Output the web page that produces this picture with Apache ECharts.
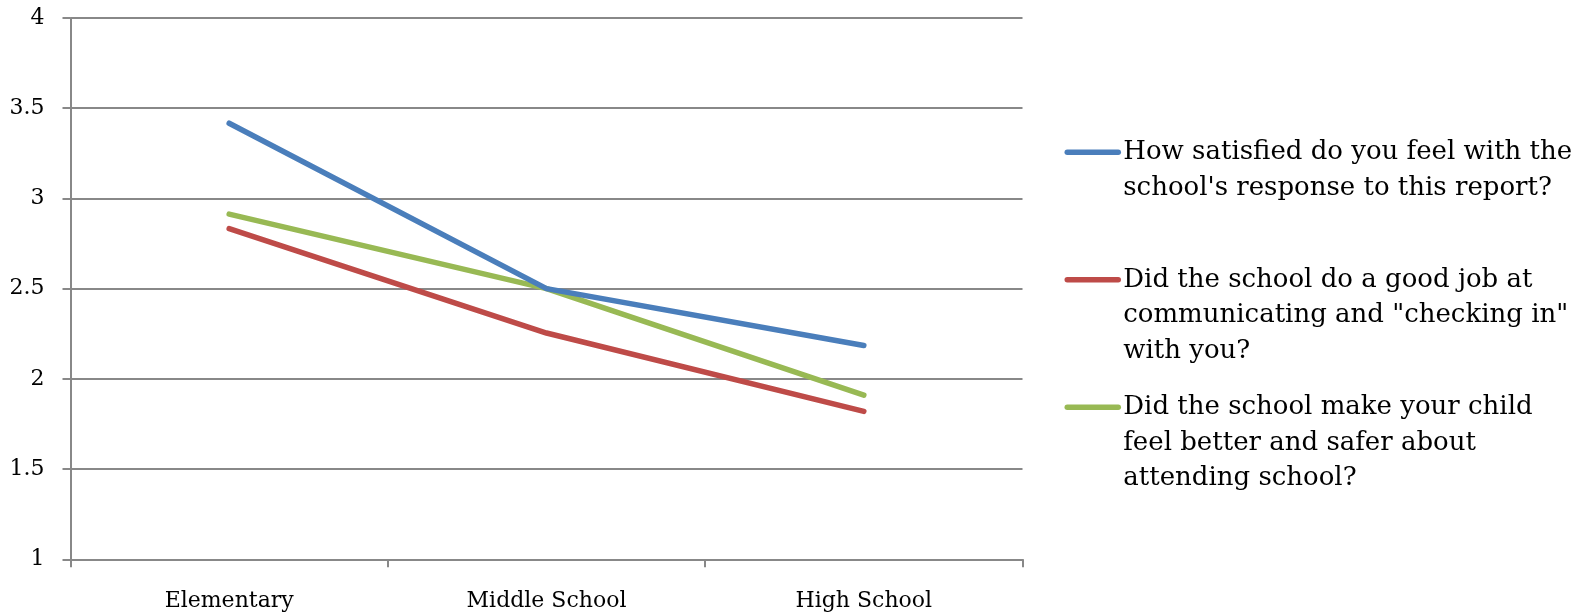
<!DOCTYPE html>
<html>
<head>
<meta charset="utf-8">
<script src="https://cdn.jsdelivr.net/npm/echarts@6/dist/echarts.min.js"></script>
<style>html,body{margin:0;padding:0;background:#fff;}#c{width:1589px;height:616px;}</style>
</head>
<body>
<div id="c"></div>
<script>
const categories = ['Elementary', 'Middle School', 'High School'];
const seriesNames = [
  "How satisfied do you feel with the school's response to this report?",
  'Did the school do a good job at communicating and "checking in" with you?',
  'Did the school make your child feel better and safer about attending school?'
];
const legendLines = [
  ["How satisfied do you feel with the", "school's response to this report?"],
  ['Did the school do a good job at', 'communicating and "checking in"', 'with you?'],
  ['Did the school make your child', 'feel better and safer about', 'attending school?']
];
const satisfied = [3.417, 2.5, 2.185];
const communicating = [2.833, 2.254, 1.82];
const saferFeeling = [2.913, 2.5, 1.91];
const yTicks = { min: 1, max: 4, interval: 0.5 };

const colors = ['#4A7EBB', '#BE4B48', '#98B954'];
const FONT = 'DejaVu Serif';
const LH = 35.5;
const values = [satisfied, communicating, saferFeeling];
const GRID = '#888888';

const chart = echarts.init(document.getElementById('c'), null, { renderer: 'canvas' });
chart.setOption({
  animation: false,
  backgroundColor: '#ffffff',
  grid: { left: 70.5, right: 566.5, top: 18, bottom: 56.7, containLabel: false },
  xAxis: {
    type: 'category',
    data: categories,
    boundaryGap: true,
    axisLine: { show: true, lineStyle: { color: GRID, width: 2 } },
    axisTick: { show: true, length: 8, inside: false, lineStyle: { color: GRID, width: 2 } },
    axisLabel: { margin: 31, color: '#000', fontFamily: FONT, fontSize: 22 },
    splitLine: { show: false }
  },
  yAxis: {
    type: 'value',
    min: yTicks.min, max: yTicks.max, interval: yTicks.interval,
    axisLine: { show: true, lineStyle: { color: GRID, width: 2 } },
    axisTick: { show: true, length: 8, lineStyle: { color: GRID, width: 2 } },
    axisLabel: { margin: 26, color: '#000', fontFamily: FONT, fontSize: 22 },
    splitLine: { show: true, lineStyle: { color: GRID, width: 2 } }
  },
  legend: {
    orient: 'vertical',
    left: 1064.5,
    top: 152.3 - 2.5 * LH,
    padding: 0,
    itemGap: 127.5 - 5 * LH,
    itemWidth: 51,
    itemHeight: 14,
    itemStyle: { opacity: 0 },
    lineStyle: { width: 5.5, cap: 'round' },
    textStyle: {
      fontFamily: FONT, fontSize: 26, color: '#000', lineHeight: LH,
      rich: { r: { fontFamily: FONT, fontSize: 26, color: '#000', lineHeight: LH } }
    },
    data: [
      { name: seriesNames[0], textStyle: { padding: [2 * LH, 0, LH, 0] } },
      { name: seriesNames[1], textStyle: { padding: [2 * LH, 0, 0, 0] } },
      { name: seriesNames[2], textStyle: { padding: [2 * LH, 0, 0, 0] } }
    ],
    formatter: function (name) {
      return legendLines[seriesNames.indexOf(name)].join('\n');
    }
  },
  series: seriesNames.map(function (n, i) {
    return {
      name: n,
      type: 'line',
      data: values[i],
      symbol: 'none',
      color: colors[i],
      lineStyle: { width: 5.5, color: colors[i], cap: 'round', join: 'round' },
      z: 3 - i
    };
  })
});
</script>
</body>
</html>
